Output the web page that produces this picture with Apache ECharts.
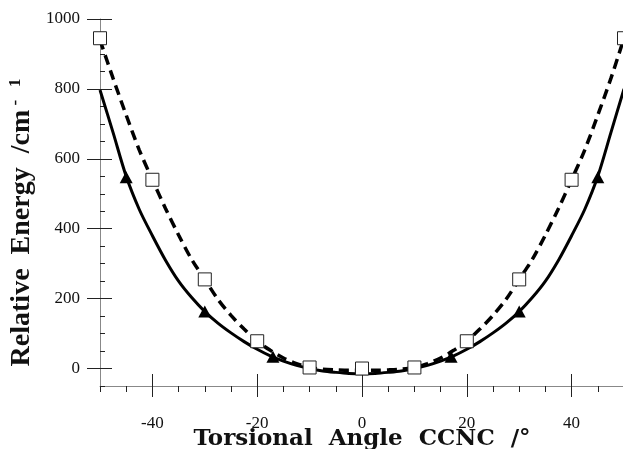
<!DOCTYPE html>
<html>
<head>
<meta charset="utf-8">
<script src="https://cdn.jsdelivr.net/npm/echarts@6/dist/echarts.min.js"></script>
<style>
    html,body{margin:0;padding:0;background:#fff;}
    #chart{width:623px;height:449px;}
</style>
</head>
<body>
<div id="chart"></div>
<script>
    // 计算点 (方块) 与 拟合点 (三角)
    var squareX = [-50, -40, -30, -20, -10, 0, 10, 20, 30, 40, 50];
    var squareY = [945, 540, 255, 78, 3, 0, 3, 78, 255, 540, 945];
    var triX = [-45, -30, -17, 17, 30, 45];
    var triY = [547, 163, 34, 34, 163, 547];

    // 拟合曲线
    var curveX = [-50, -47.5, -45, -42.5, -40, -37.5, -35, -32.5, -30, -27.5, -25, -22.5, -20, -17.5, -15, -12.5, -10, -7.5, -5, -2.5,
        0, 2.5, 5, 7.5, 10, 12.5, 15, 17.5, 20, 22.5, 25, 27.5, 30, 32.5, 35, 37.5, 40, 42.5, 45, 47.5, 50];
    var dashY = [940, 830, 725, 625, 540, 458, 382, 312, 255, 198, 152, 113, 78, 52, 30, 14, 3, -2, -4, -5,
        -5, -5, -4, -2, 3, 14, 30, 52, 78, 113, 152, 198, 255, 312, 382, 458, 540, 625, 725, 830, 945];
    var solidY = [797, 675, 550, 455, 380, 310, 250, 203, 163, 130, 102, 77, 55, 36, 21, 9, 0, -7, -11, -14,
        -15, -14, -11, -7, 0, 9, 21, 36, 55, 77, 102, 130, 163, 203, 250, 310, 380, 455, 550, 675, 800];

    var xMajor = [-40, -20, 0, 20, 40];
    var yMajor = [0, 200, 400, 600, 800, 1000];

    function pairs(xs, ys){
        var out = [];
        for (var i = 0; i < xs.length; i++) { out.push([xs[i], ys[i]]); }
        return out;
    }

    var axisColor = '#888';
    var tickColor = '#222';
    var serif = '"Liberation Serif", "Times New Roman", serif';

    function xAx(extra){
        var base = {
            type:'value', min:-50, max:50, interval:5, position:'bottom',
            axisLine:{show:false, onZero:false},
            axisLabel:{show:false},
            axisTick:{show:false},
            splitLine:{show:false}
        };
        return Object.assign(base, extra);
    }
    function yAx(extra){
        var base = {
            type:'value', min:-50, max:1000, interval:50, position:'left',
            axisLine:{show:false, onZero:false},
            axisLabel:{show:false},
            axisTick:{show:false},
            splitLine:{show:false}
        };
        return Object.assign(base, extra);
    }

    var myChart = echarts.init(document.getElementById('chart'));
    var option = {
        animation:false,
        backgroundColor:'#fff',
        grid:{left:100, right:-1, top:19, bottom:63, containLabel:false, outerBoundsMode:'none'},
        xAxis:[
            xAx({
                axisLine:{show:true, onZero:false, lineStyle:{color:axisColor, width:1}},
                axisTick:{show:true, inside:false, length:6, lineStyle:{color:tickColor}},
                axisLabel:{show:true, customValues:xMajor, margin:29, fontFamily:serif, fontSize:17, color:'#111',
                    formatter:function(v){ return String(v); }},
                name:'Torsional  Angle  CCNC  /°',
                nameLocation:'middle',
                nameMoveOverlap:false,
                nameGap:42,
                nameTextStyle:{fontFamily:'"DejaVu Serif", serif', fontWeight:'bold', fontSize:23, color:'#111'}
            }),
            xAx({axisTick:{show:true, inside:true, length:12, customValues:xMajor, lineStyle:{color:tickColor}}}),
            xAx({axisTick:{show:true, inside:false, length:11, customValues:xMajor, lineStyle:{color:tickColor}}})
        ],
        yAxis:[
            yAx({
                axisLine:{show:true, onZero:false, lineStyle:{color:axisColor, width:1}},
                axisTick:{show:true, inside:true, length:5, lineStyle:{color:tickColor}},
                axisLabel:{show:true, customValues:yMajor, margin:20, fontFamily:serif, fontSize:17, color:'#111',
                    formatter:function(v){ return String(v); }},
                name:'{a|Relative  Energy  /cm}{s| -   1}',
                nameLocation:'middle',
                nameRotate:90,
                nameMoveOverlap:false,
                nameGap:63,
                nameTextStyle:{
                    padding:[0, 40, 0, 0],
                    rich:{
                        a:{fontFamily:serif, fontWeight:'bold', fontSize:28, color:'#111', lineHeight:30},
                        s:{fontFamily:serif, fontWeight:'bold', fontSize:17, color:'#111', verticalAlign:'top', lineHeight:30}
                    }
                }
            }),
            yAx({axisTick:{show:true, inside:true, length:12, customValues:yMajor, lineStyle:{color:tickColor}}}),
            yAx({axisTick:{show:true, inside:false, length:13, customValues:yMajor, lineStyle:{color:tickColor}}})
        ],
        series:[
            {
                name:'fit-dash', type:'line', smooth:0.3, symbol:'none', clip:false,
                data:pairs(curveX, dashY),
                lineStyle:{color:'#000', width:3.5, type:[10, 6], cap:'butt'},
                z:2
            },
            {
                name:'fit-solid', type:'line', smooth:0.3, symbol:'none', clip:false,
                data:pairs(curveX, solidY),
                lineStyle:{color:'#000', width:3},
                z:3
            },
            {
                name:'square', type:'scatter', symbol:'rect', symbolSize:13, clip:false,
                data:pairs(squareX, squareY),
                itemStyle:{color:'#fff', borderColor:'#222', borderWidth:1, opacity:1},
                z:5
            },
            {
                name:'triangle', type:'scatter', symbol:'triangle', symbolSize:[13, 12], clip:false,
                data:pairs(triX, triY),
                itemStyle:{color:'#000', opacity:1},
                z:6
            }
        ]
    };
    myChart.setOption(option);
</script>
</body>
</html>
